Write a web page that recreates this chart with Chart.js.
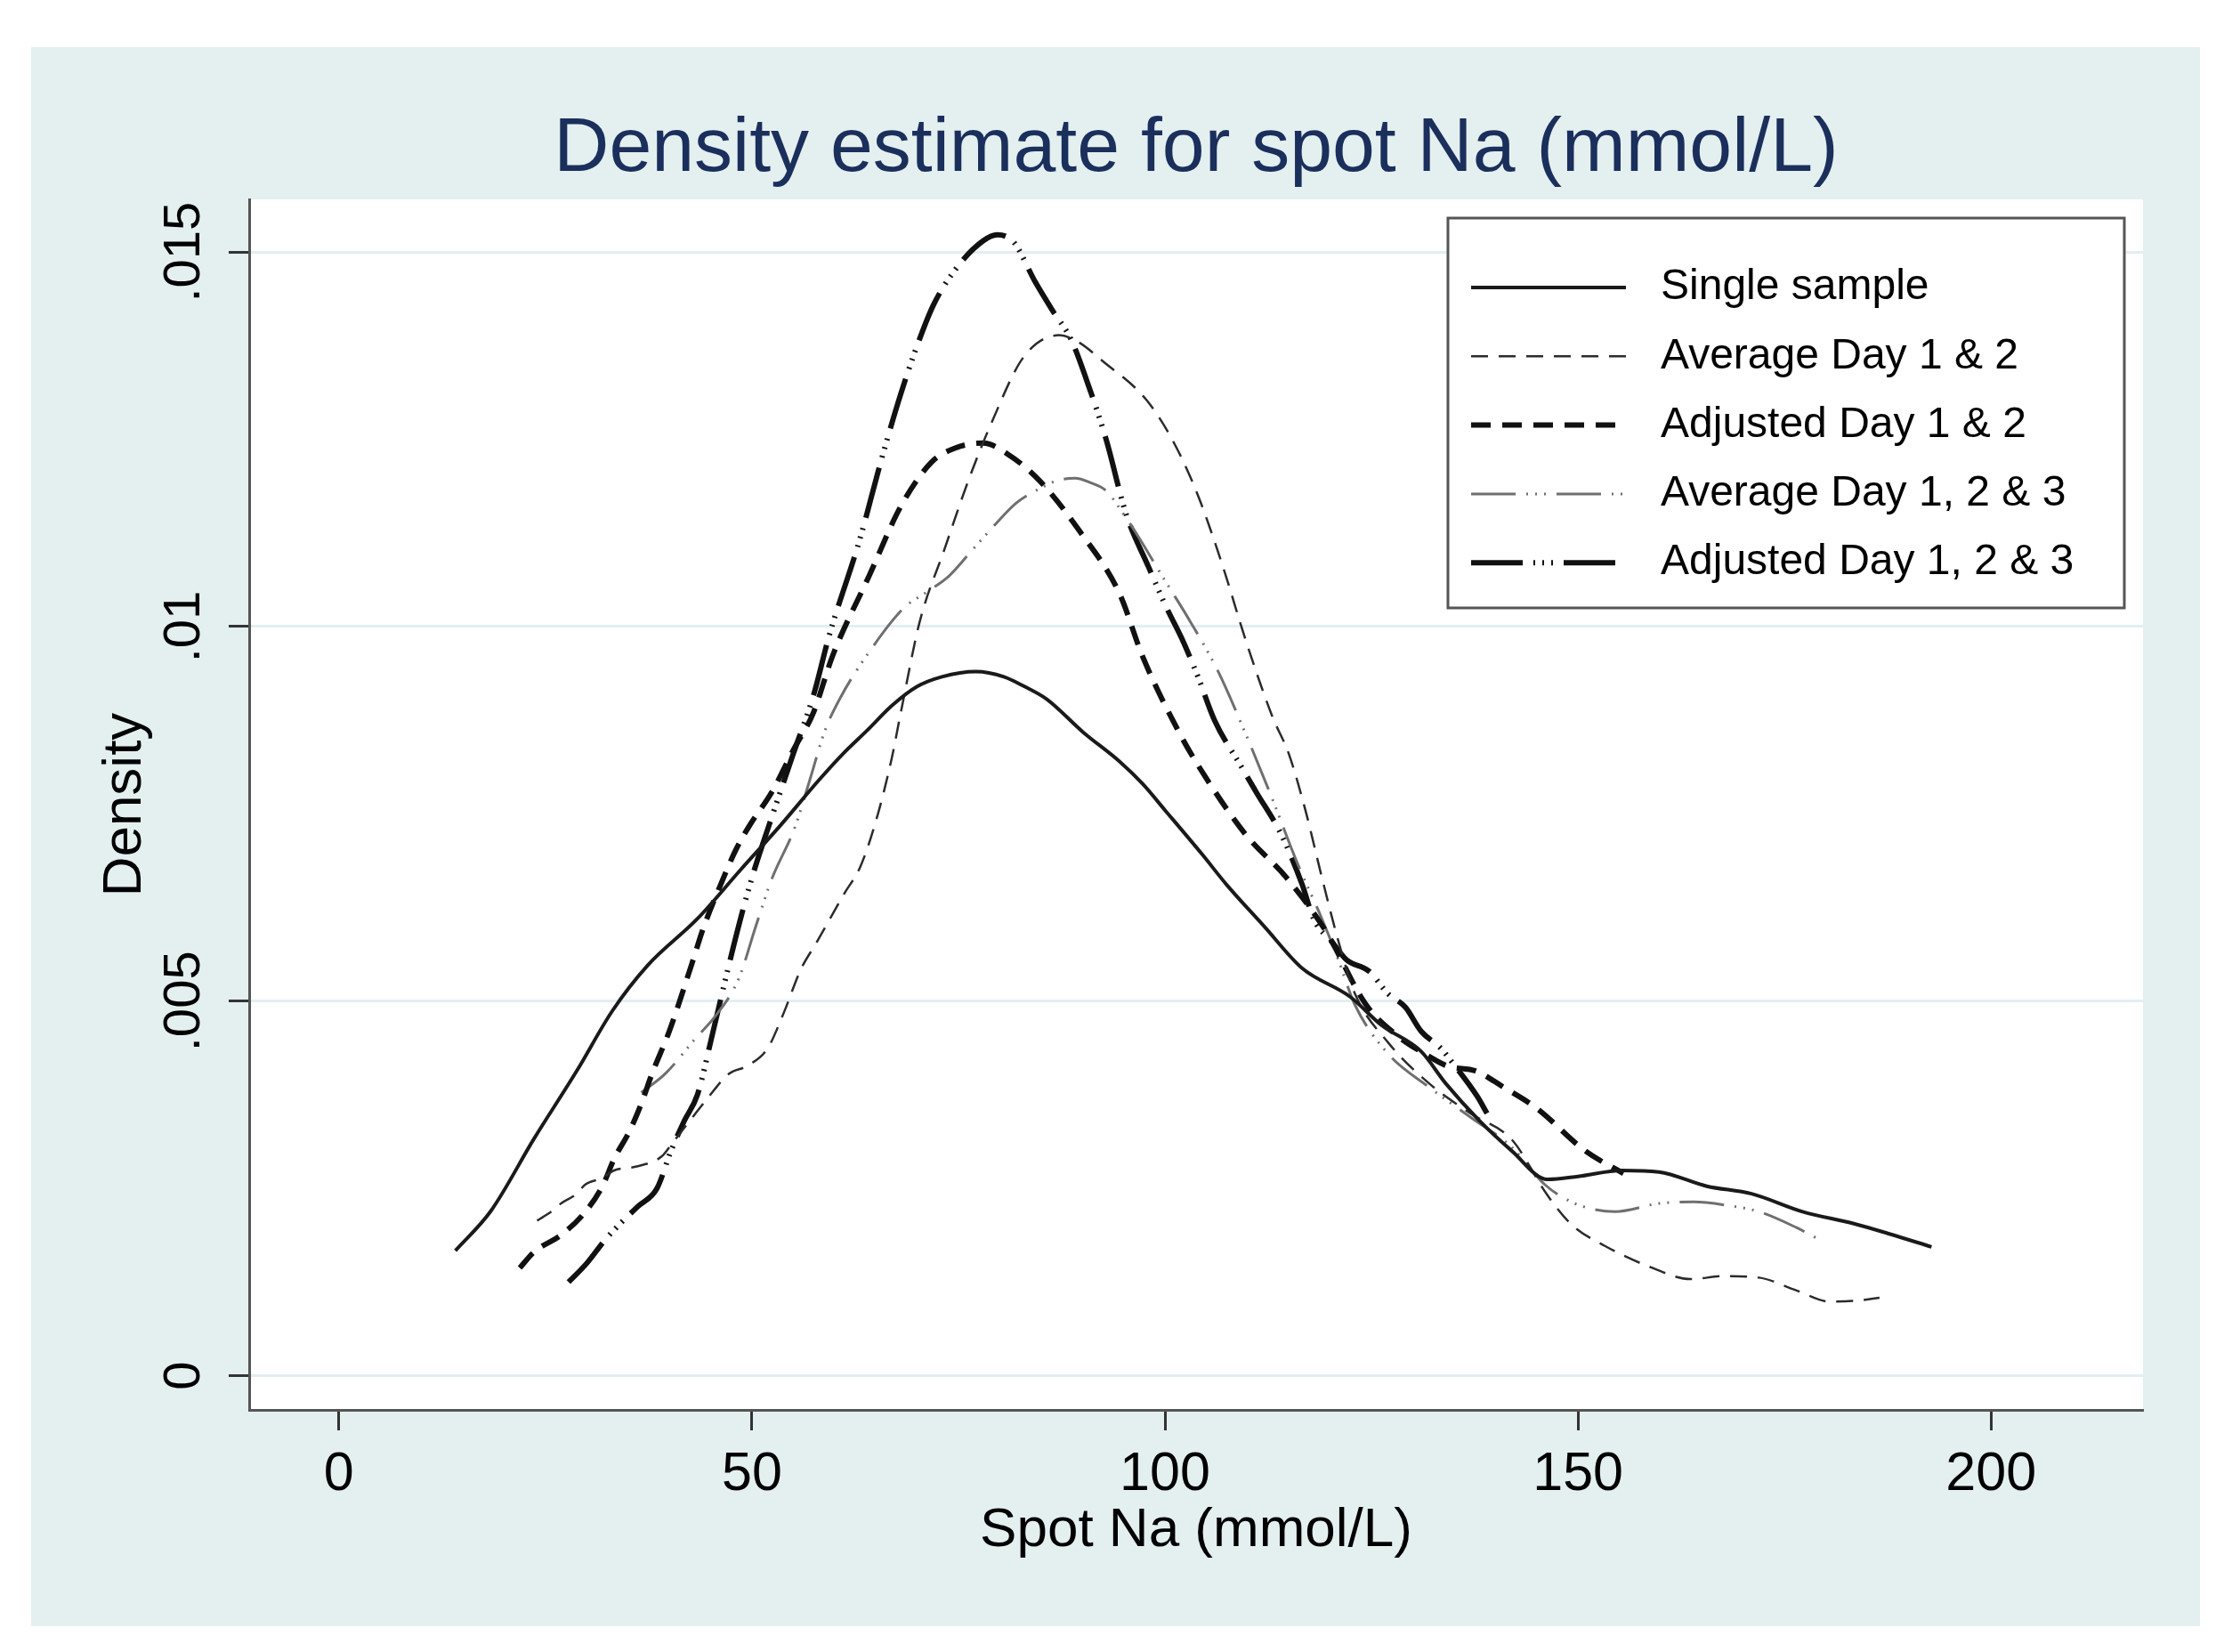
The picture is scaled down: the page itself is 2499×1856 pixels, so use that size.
<!DOCTYPE html>
<html>
<head>
<meta charset="utf-8">
<script src="https://cdn.jsdelivr.net/npm/chart.js@4.4.1/dist/chart.umd.min.js"></script>
<style>
  html, body { margin: 0; padding: 0; background: #fff; }
  canvas { display: block; }
</style>
</head>
<body>
<canvas id="myChart" width="2499" height="1856"></canvas>
<script>

// density curves: [Spot Na, density]
var singleSample = [
  [14.1, .00167], [18.4, .0022], [23.6, .00316], [28.8, .00407], [33.1, .00487], [37.4, .00548],
  [43.4, .0061], [48.6, .00675], [53.4, .00734], [58.1, .00795], [61, .0083], [64, .00862],
  [67, .00895], [70, .0092], [73, .00933], [77.1, .0094], [80.5, .00933], [83, .0092], [85.7, .00903],
  [90.1, .00859], [94.5, .0082], [97.3, .0079], [100, .00755], [104.5, .00696], [107.5, .00655],
  [112, .006], [116.6, .00544], [122.4, .00506], [126.2, .00468], [131, .00433], [134, .0039],
  [138.1, .0034], [142, .003], [146.3, .00262], [150, .00266], [155.3, .00274], [159.8, .00272],
  [165.6, .00253], [171, .00243], [177.2, .00219], [183.4, .00203], [187.5, .0019], [192.8, .00172]
];

var avgDay12 = [
  [24, .00207], [25.7, .00219], [26.9, .0023], [28.8, .00243], [29.8, .00255], [31.9, .00264],
  [33.3, .00274], [35.9, .00279], [39.1, .00293], [40.2, .00308], [44.6, .0037], [47.2, .00403],
  [49.5, .00414], [51.9, .00437], [53.8, .00483], [55.9, .00542], [57.8, .00578], [61.2, .00644],
  [63.1, .00679], [65, .0074], [66.9, .00823], [68, .00884], [70.3, .01006], [73.3, .01103],
  [76.2, .01195], [79, .01272], [82.9, .0136], [87.2, .01389], [89.5, .0138], [92.4, .01355],
  [97.8, .01302], [101.2, .01243], [104, .01175], [106.9, .01084], [109.8, .00981], [113, .0088],
  [115, .0083], [117, .00755], [119, .00665], [121, .0058], [123, .0051], [127, .00445],
  [132, .0039], [137, .0035], [142, .00315], [146.3, .00241], [149.2, .00202], [153.3, .00173],
  [159, .00144], [163.6, .00129], [167.7, .00133], [171.9, .00131], [176.4, .00114], [180.5, .00099],
  [183.5, .001], [186.5, .00104]
];

var adjDay12 = [
  [21.9, .00144], [23.6, .00165], [26.9, .00188], [29.7, .00217], [31.9, .00253], [33.3, .00289],
  [35.2, .00327], [36.6, .00363], [37.9, .00403], [40, .0046], [42.7, .00549], [44.1, .00597],
  [46, .0065], [48.1, .00703], [49.8, .00736], [52.4, .00779], [55, .00835], [57.4, .00884],
  [59.8, .00962], [64.2, .01068], [68, .0116], [71.7, .01219], [74.5, .01238], [78, .01245],
  [81, .0123], [84.8, .01195], [89.7, .01127], [94.5, .01044], [97.3, .0096], [101.7, .00859],
  [104, .00815], [109.8, .00722], [114.7, .00665], [119.5, .00593], [124.3, .00496], [128, .00455],
  [131.4, .0043], [134.3, .00413], [137.6, .00407], [141, .00385], [145, .00357], [150.9, .003],
  [155.5, .0027]
];

var avgDay123 = [
  [36.6, .00378], [39.5, .00403], [43.3, .00452], [45.5, .00479], [48.4, .0053], [50.5, .00601],
  [52.4, .00663], [55.2, .00732], [57, .00795], [58.8, .0086], [60.7, .00905], [64.5, .00971],
  [68.4, .01025], [71, .01045], [73.8, .01067], [76.5, .011], [79.5, .01137], [82, .01165],
  [84.8, .01184], [87, .01195], [89.1, .01198], [91, .01192], [92.9, .01181], [95, .0115],
  [96.9, .01118], [99.3, .01074], [103.1, .01006], [106.4, .00941], [109.8, .00856], [113, .0077],
  [116, .00685], [119, .0061], [121, .00555], [123, .00495], [127, .0043], [132, .00385],
  [137, .00345], [142, .00305], [146, .00255], [149.2, .00232], [152, .00222], [154.5, .00219],
  [159.8, .0023], [164, .00232], [167.7, .00228], [171.9, .00219], [176.4, .00198], [179, .00183]
];

var adjDay123 = [
  [27.8, .00125], [30, .0015], [32.2, .00181], [34.5, .00208], [36.2, .00226], [38.5, .0025],
  [40.2, .003], [41.8, .0034], [43.4, .00375], [45.2, .00455], [46.9, .00534], [48.5, .00605],
  [50.2, .00672], [52.2, .00739], [55, .0083], [57.5, .0091], [59.3, .00986], [63.1, .01118],
  [65.6, .0122], [68, .0131], [70, .01375], [72, .0143], [75, .01482], [78, .01515],
  [79.7, .01523], [81.7, .01513], [84.3, .0146], [86.5, .0142], [88.6, .01384], [90.8, .0132],
  [92.9, .01249], [95.3, .0115], [98, .0108], [100.2, .01025], [102, .00985], [104, .00933],
  [106, .00875], [109.3, .00812], [111, .0078], [114.1, .00722], [116.6, .00656], [118, .0061],
  [120.3, .00578], [122, .00555], [124.7, .0054], [127, .0051], [129.1, .00492], [131, .0046],
  [133.4, .00437], [134.8, .00418], [137.8, .00373], [139, .0035]
];

var seriesLabels = ['Single sample', 'Average Day 1 & 2', 'Adjusted Day 1 & 2',
                    'Average Day 1, 2 & 3', 'Adjusted Day 1, 2 & 3'];
var xTicks = [0, 50, 100, 150, 200];
var yTicks = [0, .005, .01, .015];
var yTickLabels = ['0', '.005', '.01', '.015'];

var FONT = "'Liberation Sans', Arial, sans-serif";

function toPoints(arr) {
    return arr.map(function (p) { return {x: p[0], y: p[1]}; });
}

function line(label, arr, color, width, dash) {
    return {
        label: label,
        data: toPoints(arr),
        borderColor: color,
        borderWidth: width,
        borderDash: dash,
        borderJoinStyle: 'round',
        pointRadius: 0,
        fill: false,
        cubicInterpolationMode: 'monotone'
    };
}

var stataLook = {
    id: 'stataLook',
    beforeDraw: function (chart) {
        var ctx = chart.ctx, a = chart.chartArea;
        ctx.save();
        ctx.fillStyle = '#ffffff';
        ctx.fillRect(0, 0, chart.width, chart.height);
        ctx.fillStyle = '#e4efef';
        ctx.fillRect(35, 53, 2437, 1774);
        ctx.fillStyle = '#ffffff';
        ctx.fillRect(a.left, a.top, a.right - a.left, a.bottom - a.top);
        ctx.restore();
    },
    afterDraw: function (chart) {
        var ctx = chart.ctx, a = chart.chartArea;
        ctx.save();

        // title
        ctx.fillStyle = '#1b2f5c';
        ctx.font = '86px ' + FONT;
        ctx.textAlign = 'center';
        ctx.textBaseline = 'middle';
        ctx.fillText('Density estimate for spot Na (mmol/L)', (a.left + a.right) / 2, 168);

        // vertical y tick labels
        var ys = chart.scales.y;
        ctx.fillStyle = '#000';
        ctx.font = '58px ' + FONT;
        yTicks.forEach(function (v, i) {
            ctx.save();
            ctx.translate(a.left - 72, ys.getPixelForValue(v));
            ctx.rotate(-Math.PI / 2);
            ctx.fillText(yTickLabels[i], 0, 0);
            ctx.restore();
        });

        // legend box
        var bx = 1627, by = 245, bw = 760, bh = 438;
        ctx.fillStyle = '#fff';
        ctx.fillRect(bx, by, bw, bh);
        ctx.strokeStyle = '#555';
        ctx.lineWidth = 3;
        ctx.strokeRect(bx, by, bw, bh);
        ctx.font = '48px ' + FONT;
        ctx.textAlign = 'left';
        chart.data.datasets.forEach(function (ds, i) {
            var y = 323 + i * 77.3;
            ctx.save();
            ctx.strokeStyle = ds.borderColor;
            ctx.lineWidth = ds.borderWidth;
            ctx.setLineDash(ds.borderDash || []);
            ctx.beginPath();
            ctx.moveTo(1653, y);
            ctx.lineTo(1827, y);
            ctx.stroke();
            ctx.restore();
            ctx.fillStyle = '#000';
            ctx.fillText(ds.label, 1866, y);
        });
        ctx.restore();
    }
};

var ctx = document.getElementById('myChart').getContext('2d');

var myChart = new Chart(ctx, {
    type: 'line',
    data: {
        datasets: [
            line(seriesLabels[0], singleSample, '#1a1a1a', 4, []),
            line(seriesLabels[1], avgDay12, '#2b2b2b', 2.5, [19, 12]),
            line(seriesLabels[2], adjDay12, '#111111', 6, [22, 13]),
            line(seriesLabels[3], avgDay123, '#6f6f6f', 3, [50, 12, 2, 8, 2, 8, 2, 12]),
            line(seriesLabels[4], adjDay123, '#111111', 6, [58, 12, 2, 8, 2, 8, 2, 12])
        ]
    },
    options: {
        responsive: false,
        devicePixelRatio: 1,
        animation: false,
        layout: { padding: { left: 40, right: 91, top: 224, bottom: 0 } },
        plugins: {
            legend: { display: false },
            title: { display: false },
            tooltip: { enabled: false }
        },
        scales: {
            x: {
                type: 'linear',
                min: -10.86,
                max: 218.4,
                afterBuildTicks: function (s) { s.ticks = xTicks.map(function (v) { return {value: v}; }); },
                afterFit: function (s) { s.height = 272; },
                border: { display: true, color: '#555', width: 3 },
                grid: { drawOnChartArea: false, drawTicks: true, tickLength: 23, tickColor: '#333', tickWidth: 3 },
                ticks: {
                    color: '#000',
                    padding: 14,
                    maxRotation: 0,
                    font: { family: FONT, size: 61 },
                    callback: function (v) { return String(v); }
                },
                title: {
                    display: true,
                    text: 'Spot Na (mmol/L)',
                    color: '#000',
                    font: { family: FONT, size: 62 },
                    padding: { top: 99, bottom: 99 }
                }
            },
            y: {
                type: 'linear',
                min: -0.000456,
                max: 0.015703,
                afterBuildTicks: function (s) { s.ticks = yTicks.map(function (v) { return {value: v}; }); },
                afterFit: function (s) { s.width = 240; },
                border: { display: true, color: '#555', width: 3 },
                grid: { color: '#e3eef1', lineWidth: 3, drawTicks: true, tickLength: 23, tickColor: '#333', tickWidth: 3 },
                ticks: { display: false },
                title: {
                    display: true,
                    text: 'Density',
                    color: '#000',
                    font: { family: FONT, size: 62 },
                    padding: { top: 64, bottom: 64 }
                }
            }
        }
    },
    plugins: [stataLook]
});
</script>
</body>
</html>
